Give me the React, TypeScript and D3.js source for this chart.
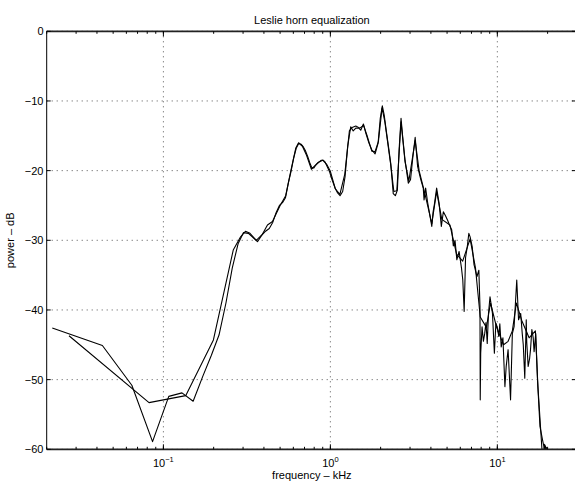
import React from 'react';
import * as d3 from 'd3';

// measured response (kHz, dB)
const freqA = [
  0.0216, 0.0431, 0.0647, 0.0861, 0.1077, 0.1292, 0.1507, 0.1723, 0.1938, 0.2153,
  0.2369, 0.2584, 0.28, 0.3015, 0.323, 0.3445, 0.366, 0.3876, 0.409, 0.4307,
  0.4522, 0.4737, 0.4953, 0.5168, 0.5383, 0.56, 0.5814, 0.6029, 0.6244, 0.646,
  0.6675, 0.689, 0.7106, 0.7321, 0.7536, 0.7751, 0.7967, 0.8182, 0.8397, 0.8613,
  0.8828, 0.9043, 0.9259, 0.9474, 0.969, 0.9905, 1.02, 1.067, 1.105, 1.143,
  1.185, 1.224, 1.27, 1.324, 1.37, 1.42, 1.48, 1.52, 1.577, 1.63,
  1.7, 1.77, 1.853, 1.93, 1.99, 2.047, 2.1, 2.16, 2.23, 2.3,
  2.38, 2.45, 2.52, 2.58, 2.65, 2.71, 2.8, 2.93, 3.02, 3.12,
  3.22, 3.33, 3.48, 3.6, 3.64, 3.72, 3.82, 3.95, 4.05, 4.12,
  4.2, 4.33, 4.48, 4.62, 4.75, 4.9, 5.05, 5.21, 5.33, 5.45,
  5.58, 5.72, 5.9, 6.1, 6.21, 6.33, 6.45, 6.6, 6.75, 6.87,
  7.07, 7.25, 7.55, 7.75, 7.87, 7.9, 7.95, 8.1, 8.25, 8.4,
  8.55, 8.7, 8.85, 9.04, 9.35, 9.6, 9.8, 10.0, 10.2, 10.35,
  10.55, 10.8, 11.1, 11.3, 11.6, 12.0, 12.3, 12.6, 13.07, 13.4,
  13.8, 14.1, 14.3, 14.6, 14.9, 15.0, 15.3, 15.6, 15.8, 16.1,
  16.4, 16.6, 16.98, 17.4, 18.0, 18.6, 19.0, 19.1, 19.2, 19.3,
  19.4, 19.5, 19.6, 19.7, 19.8, 19.9, 20.0, 20.2, 20.4, 20.6,
  21.0, 22.0,
];
const dbA = [
  -42.6, -45.1, -50.8, -58.9, -52.4, -51.9, -53.1, -49.5, -46.5, -43.6,
  -39.0, -34.0, -30.5, -28.9, -29.0, -29.6, -30.2, -29.3, -28.7, -28.3,
  -27.4, -26.0, -25.0, -24.6, -23.9, -21.8, -20.1, -18.2, -16.8, -16.1,
  -16.2, -16.6, -17.2, -18.0, -18.9, -19.6, -19.6, -19.2, -18.9, -18.7,
  -18.5, -18.5, -18.7, -19.2, -19.7, -20.2, -21.2, -22.5, -23.2, -23.6,
  -23.0, -20.9, -16.5, -13.7, -14.3, -13.9, -13.9, -14.2, -13.3, -14.6,
  -16.0, -17.0, -17.6, -16.1, -12.5, -10.7, -12.0, -14.2, -16.6, -19.0,
  -23.3, -23.6, -22.8, -17.0, -12.5, -15.1, -18.5, -21.8, -21.3, -18.0,
  -15.2, -19.4, -21.3, -22.5, -24.2, -22.5, -24.5, -26.5, -28.0, -26.0,
  -24.8, -22.5, -24.7, -28.0, -25.9, -26.5, -27.2, -28.0, -28.5, -30.8,
  -30.0, -32.8, -31.6, -34.0, -35.7, -40.2, -32.5, -31.0, -29.0, -29.5,
  -30.9, -33.5, -35.2, -34.3, -39.5, -52.9, -46.2, -42.4, -44.5, -43.4,
  -41.8, -44.8, -40.5, -38.1, -40.5, -46.2, -41.9, -42.5, -43.8, -42.0,
  -45.3, -44.0, -51.0, -48.1, -45.7, -52.9, -43.4, -42.4, -35.7, -41.4,
  -40.5, -43.4, -45.0, -49.8, -41.4, -44.6, -48.1, -47.0, -45.7, -42.8,
  -44.0, -46.0, -43.4, -50.0, -56.7, -58.5, -59.6, -62.0, -59.3, -63.0,
  -59.5, -62.0, -59.7, -64.0, -59.8, -63.0, -60.2, -65.0, -61.0, -68.0,
  -70.0, -80.0,
];

// smoothed / equalized response (kHz, dB)
const freqB = [
  0.0272, 0.082, 0.136, 0.1993, 0.262, 0.29, 0.31, 0.33, 0.36, 0.39,
  0.42, 0.45, 0.5, 0.54, 0.58, 0.62, 0.645, 0.68, 0.72, 0.77,
  0.8, 0.85, 0.9, 0.95, 1.0, 1.07, 1.14, 1.22, 1.3, 1.35,
  1.42, 1.5, 1.58, 1.65, 1.77, 1.85, 1.94, 2.04, 2.12, 2.3,
  2.4, 2.5, 2.65, 2.8, 2.95, 3.22, 3.4, 3.7, 4.05, 4.33,
  4.65, 5.2, 5.7, 6.2, 6.87, 7.4, 7.9, 8.6, 9.1, 9.9,
  10.9, 11.6, 12.3, 13.0, 14.0, 15.5, 16.9, 17.5, 18.5, 19.5,
];
const dbB = [
  -43.7, -53.3, -52.3, -44.3, -31.4, -29.5, -28.7, -29.0, -30.0, -29.2,
  -27.8, -27.3, -25.0, -23.6, -20.0, -16.8, -16.0, -16.5, -17.8, -19.8,
  -19.4, -18.8, -18.5, -19.1, -20.1, -22.6, -23.4, -20.5, -14.3, -13.8,
  -13.6, -13.9, -13.5, -14.8, -17.2, -17.3, -15.8, -11.0, -13.0, -19.2,
  -23.0, -22.9, -13.0, -18.7, -21.5, -15.7, -20.0, -23.5, -27.6, -23.0,
  -27.0, -27.8, -32.0, -33.0, -29.8, -34.0, -41.0, -42.5, -39.0, -42.5,
  -45.0, -44.5, -43.0, -39.0, -41.5, -44.0, -43.0, -51.0, -60.0, -66.0,
];

const yTicks = [0, -10, -20, -30, -40, -50, -60];
const xTickExps = [-1, 0, 1];
const xDomain = [0.02, 30];
const yDomain = [-60, 0];

const W = 575;
const H = 481;
const margin = { left: 46.7, top: 31.3, right: 577, bottom: 449.3 };
const font = "'Liberation Sans', Arial, Helvetica, sans-serif";

const App = () => {
  const x = d3.scaleLog().domain(xDomain).range([margin.left, margin.right]);
  const y = d3.scaleLinear().domain(yDomain).range([margin.bottom, margin.top]);

  const lineGen = d3.line<[number, number]>()
    .x(d => x(d[0]))
    .y(d => y(d[1]));

  const ptsA = freqA.map((f, i) => [f, dbA[i]] as [number, number]);
  const ptsB = freqB.map((f, i) => [f, dbB[i]] as [number, number]);

  // minor ticks for log axis
  const minor: number[] = [];
  for (let e = -2; e <= 1; e++) {
    for (let m = 1; m <= 9; m++) {
      const v = m * Math.pow(10, e);
      if (v >= xDomain[0] && v <= xDomain[1]) minor.push(v);
    }
  }

  const grid = '#555';
  const midX = (margin.left + margin.right) / 2;
  const midY = (margin.top + margin.bottom) / 2;

  return (
    <svg width={W} height={H} style={{ position: 'absolute', left: 0, top: 0, background: '#fff' }}
      fontFamily={font}>
      <defs>
        <clipPath id="plotclip">
          <rect x={margin.left} y={margin.top} width={margin.right - margin.left} height={margin.bottom - margin.top} />
        </clipPath>
      </defs>
      <rect x={0} y={0} width={W} height={H} fill="#fff" />

      {/* grid */}
      {yTicks.map(t => (
        <line key={'gy' + t} x1={margin.left} x2={margin.right} y1={y(t)} y2={y(t)}
          stroke={grid} strokeWidth={1} strokeDasharray="1,4" />
      ))}
      {xTickExps.map(e => (
        <line key={'gx' + e} x1={x(Math.pow(10, e))} x2={x(Math.pow(10, e))} y1={margin.top} y2={margin.bottom}
          stroke={grid} strokeWidth={1} strokeDasharray="1,4" />
      ))}

      {/* curves */}
      <g clipPath="url(#plotclip)" fill="none" stroke="#000" strokeWidth={1.1} strokeLinejoin="round">
        <path d={lineGen(ptsB) || ''} />
        <path d={lineGen(ptsA) || ''} />
      </g>

      {/* axes box */}
      <line x1={margin.left} x2={margin.right} y1={margin.top} y2={margin.top} stroke="#222" strokeWidth={1.8} />
      <line x1={margin.left} x2={margin.right} y1={margin.bottom} y2={margin.bottom} stroke="#222" strokeWidth={1.8} />
      <line x1={margin.left} x2={margin.left} y1={margin.top} y2={margin.bottom} stroke="#000" strokeWidth={1} />
      <line x1={margin.right} x2={margin.right} y1={margin.top} y2={margin.bottom} stroke="#000" strokeWidth={1} />

      {/* ticks */}
      {minor.map(v => (
        <g key={'mt' + v}>
          <line x1={x(v)} x2={x(v)} y1={margin.top} y2={margin.top + 2.5} stroke="#000" strokeWidth={1} />
          <line x1={x(v)} x2={x(v)} y1={margin.bottom} y2={margin.bottom - 2.5} stroke="#000" strokeWidth={1} />
        </g>
      ))}
      {xTickExps.map(e => (
        <g key={'xt' + e}>
          <line x1={x(Math.pow(10, e))} x2={x(Math.pow(10, e))} y1={margin.top} y2={margin.top + 5} stroke="#000" />
          <line x1={x(Math.pow(10, e))} x2={x(Math.pow(10, e))} y1={margin.bottom} y2={margin.bottom - 5} stroke="#000" />
          <text x={x(Math.pow(10, e))} y={466.5} textAnchor="middle" fontSize={11} fill="#000">
            10<tspan fontSize={7.5} dy={-5}>{e < 0 ? '\u2212' + Math.abs(e) : e}</tspan>
          </text>
        </g>
      ))}
      {yTicks.map(t => (
        <g key={'yt' + t}>
          <line x1={margin.left} x2={margin.left + 4} y1={y(t)} y2={y(t)} stroke="#000" />
          <line x1={margin.right} x2={margin.right - 5} y1={y(t)} y2={y(t)} stroke="#000" />
          <text x={43.5} y={y(t) + 4} textAnchor="end" fontSize={11} fill="#000">
            {t < 0 ? '\u2212' + Math.abs(t) : t}
          </text>
        </g>
      ))}

      {/* labels */}
      <text x={midX} y={24} textAnchor="middle" fontSize={11} fill="#000">Leslie horn equalization</text>
      <text x={midX} y={479} textAnchor="middle" fontSize={11} fill="#000">frequency – kHz</text>
      <text transform={`translate(14,${midY}) rotate(-90)`} textAnchor="middle" fontSize={11} fill="#000">power – dB</text>
    </svg>
  );
};

export default App;
